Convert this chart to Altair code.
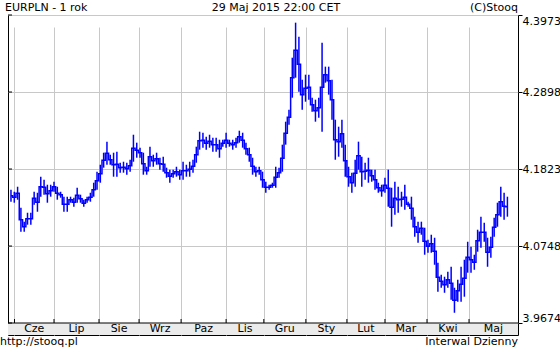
import altair as alt
import pandas as pd

# daily high / low of EURPLN, one entry per session block
hi = [4.1534,4.1506,4.1576,4.1283,4.1088,4.1213,4.1213,4.1506,4.1492,4.1716,4.1674,4.1604,4.1604,4.1646,4.1576,4.1506,4.1437,4.1437,4.1437,4.1423,4.1562,4.1465,4.1395,4.1437,4.1492,4.1632,4.1786,4.1883,4.2051,4.2205,4.2023,
      4.2051,4.2065,4.1911,4.1925,4.1911,4.1953,4.2302,4.2191,4.2121,4.2051,4.1855,4.2135,4.2023,4.2051,4.1981,4.1995,4.1842,4.1814,4.1814,4.1855,4.1814,4.1925,4.1883,4.1925,4.1953,4.2135,4.2344,4.2330,4.2274,4.2302,4.2260,
      4.2260,4.2232,4.2232,4.2330,4.2232,4.2232,4.2260,4.2358,4.2330,4.2191,4.2121,4.1981,4.1855,4.1855,4.1786,4.1646,4.1604,4.1632,4.1855,4.1842,4.2163,4.2484,4.2651,4.3377,4.3866,4.3670,4.3070,4.3140,4.3140,4.2819,4.2791,
      4.2819,4.3587,4.3252,4.3252,4.3070,4.2512,4.2414,4.2512,4.2163,4.1855,4.1772,4.1953,4.2205,4.1995,4.1911,4.1981,4.1814,4.1814,4.1632,4.1604,4.1702,4.1814,4.1562,4.1646,4.1576,4.1506,4.1604,4.1367,4.1437,4.1158,4.1088,
      4.1088,4.1004,4.0836,4.0906,4.0864,4.0515,4.0348,4.0320,4.0390,4.0459,4.0166,4.0278,4.0459,4.0557,4.0808,4.0739,4.0627,4.0976,4.1158,4.1074,4.0864,4.0878,4.1144,4.1353,4.1576,4.1492,4.1437]
lo = [4.1367,4.1353,4.1395,4.0948,4.0948,4.1046,4.1046,4.1325,4.1227,4.1437,4.1465,4.1353,4.1437,4.1506,4.1395,4.1423,4.1227,4.1227,4.1353,4.1297,4.1353,4.1353,4.1297,4.1353,4.1367,4.1437,4.1534,4.1632,4.1842,4.1883,4.1883,
      4.1716,4.1716,4.1772,4.1772,4.1744,4.1786,4.1925,4.1981,4.1981,4.1744,4.1744,4.1855,4.1855,4.1883,4.1814,4.1786,4.1702,4.1632,4.1702,4.1716,4.1674,4.1674,4.1716,4.1716,4.1772,4.1911,4.2093,4.2121,4.2093,4.2121,4.2065,
      4.2065,4.1981,4.2135,4.2121,4.2135,4.2093,4.2121,4.2191,4.2121,4.2023,4.1925,4.1744,4.1716,4.1744,4.1562,4.1492,4.1534,4.1562,4.1562,4.1702,4.1786,4.2163,4.2442,4.2819,4.3098,4.2903,4.2651,4.2763,4.2791,4.2623,4.2484,
      4.2540,4.2344,4.3028,4.2861,4.2512,4.1953,4.1995,4.2121,4.1716,4.1576,4.1492,4.1576,4.1814,4.1576,4.1674,4.1632,4.1646,4.1534,4.1492,4.1437,4.1492,4.1297,4.1018,4.1186,4.1213,4.1297,4.1255,4.1297,4.1116,4.0878,4.0795,
      4.0906,4.0627,4.0655,4.0655,4.0487,4.0110,4.0166,4.0096,4.0166,3.9999,3.9817,3.9971,3.9971,4.0041,4.0376,4.0376,4.0417,4.0669,4.0725,4.0808,4.0459,4.0585,4.0878,4.1018,4.1158,4.1116,4.1158]

tick_prices = [3.9674, 4.0748, 4.1823, 4.2898, 4.3973]
month_labels = ["Cze", "Lip", "Sie", "Wrz", "Paz", "Lis", "Gru", "Sty", "Lut", "Mar", "Kwi", "Maj"]
month_starts = [1.06, 13.0, 26.6, 38.7, 51.4, 65.0, 76.4, 89.1, 101.5, 113.0, 125.7, 138.4]
x_start, x_end = -0.9, 153.2

BLUE = "#0000ff"
GRID = "#c8c8c8"
FONT = "DejaVu Sans"

df = pd.DataFrame({"i": list(range(len(hi))), "hi": hi, "lo": lo})
df["mid"] = (df["hi"] + df["lo"]) / 2

ends = month_starts[1:] + [x_end]
months = pd.DataFrame({
    "m": month_starts,
    "mid": [(a + b) / 2 for a, b in zip(month_starts, ends)],
    "label": month_labels,
})
prices = pd.DataFrame({"p": tick_prices})
one = pd.DataFrame({"a": [0]})

xs = alt.Scale(domain=[x_start, x_end], nice=False, zero=False)
ys = alt.Scale(domain=[3.9674, 4.3973], range=[308, 0], nice=False, zero=False)
xaxis = alt.Axis(values=month_starts, grid=True, gridColor=GRID, gridWidth=1,
                 labels=False, ticks=False, domain=False, title=None)
yaxis = alt.Axis(orient="right", values=tick_prices, format=".4f", grid=True,
                 gridColor=GRID, gridWidth=1, tickSize=4, tickColor="black",
                 labelFont=FONT, labelFontSize=11, labelColor="black",
                 labelPadding=0, labelFlush=True, domain=False, title=None)

rules = alt.Chart(df).mark_rule(color=BLUE, strokeWidth=1.5).encode(
    x=alt.X("i:Q", scale=xs, axis=xaxis),
    y=alt.Y("lo:Q", scale=ys, axis=yaxis),
    y2="hi:Q",
)
steps = alt.Chart(df).mark_line(color=BLUE, strokeWidth=1.5, interpolate="step").encode(
    x=alt.X("i:Q", scale=xs, axis=xaxis),
    y=alt.Y("mid:Q", scale=ys, axis=yaxis),
)

band = alt.Chart(one).mark_rect(fill="#ebebeb").encode(
    x=alt.value(0), x2=alt.value(510), y=alt.value(308), y2=alt.value(320)
)
band_line = alt.Chart(one).mark_rule(color="black", strokeWidth=1).encode(
    x=alt.value(0), x2=alt.value(510), y=alt.value(308)
)
month_ticks = alt.Chart(months).mark_rule(color="black", strokeWidth=1).encode(
    x=alt.X("m:Q", scale=xs, axis=xaxis), y=alt.value(304), y2=alt.value(308)
)
month_text = alt.Chart(months).mark_text(font=FONT, fontSize=11, color="black",
                                         baseline="alphabetic", align="center").encode(
    x=alt.X("mid:Q", scale=xs, axis=xaxis), y=alt.value(317), text="label:N"
)
left_ticks = alt.Chart(prices).mark_rule(color="black", strokeWidth=1).encode(
    y=alt.Y("p:Q", scale=ys, axis=yaxis), x=alt.value(0), x2=alt.value(4)
)


def label(txt, x, y, align):
    return alt.Chart(pd.DataFrame({"t": [txt]})).mark_text(
        font=FONT, fontSize=11, color="black", align=align, baseline="alphabetic"
    ).encode(x=alt.value(x), y=alt.value(y), text="t:N")


texts = [
    label("EURPLN - 1 rok", -3, -4, "left"),
    label("29 Maj 2015 22:00 CET", 268, -4, "center"),
    label("(C)Stooq", 510, -4, "right"),
    label("http://stooq.pl", -8, 330, "left"),
    label("Interwal Dzienny", 510, 330, "right"),
]

chart = alt.layer(
    rules, steps, band, band_line, month_ticks, month_text, left_ticks, *texts
).properties(
    width=510, height=320,
    autosize=alt.AutoSizeParams(type="none"),
    padding={"left": 8, "top": 15, "right": 42, "bottom": 15},
    background="white",
).configure_view(stroke="black", strokeWidth=1)

chart.save("out.html", embed_options={"renderer": "svg", "actions": False})
